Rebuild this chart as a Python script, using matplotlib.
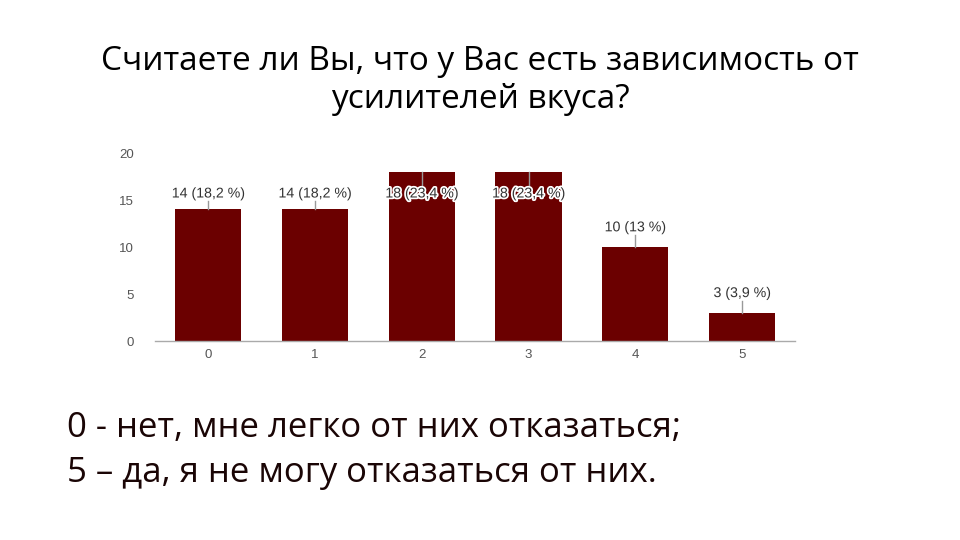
import matplotlib.pyplot as plt
import matplotlib.patheffects as pe
import numpy as np

plt.rcParams["font.family"] = ["Open Sans", "DejaVu Sans"]

TITLE = "Считаете ли Вы, что у Вас есть зависимость от\nусилителей вкуса?"
NOTE_LINES = [
    "0 - нет, мне легко от них отказаться;",
    "5 – да, я не могу отказаться от них.",
]

categories = ["0", "1", "2", "3", "4", "5"]
counts = [14, 14, 18, 18, 10, 3]
percent_labels = ["18,2", "18,2", "23,4", "23,4", "13", "3,9"]

BAR_COLOR = "#6b0000"
TICK_COLOR = "#555555"

fig = plt.figure(figsize=(9.6, 5.4), dpi=100)
ax = fig.add_axes([0.1615, 0.3685, 0.667, 0.348])

x = np.arange(len(categories))
ax.bar(x, counts, width=0.62, color=BAR_COLOR, edgecolor="none", zorder=2)

# labels sit ~2 units above the bar top, but never above 15.7 (they overlap tall bars)
for xi, c, p in zip(x, counts, percent_labels):
    ly = min(c + 2.1, 15.7)
    ax.plot([xi, xi], [c, ly - 0.8] if ly > c else [c, ly + 0.9],
            color="#999999", linewidth=1.0, zorder=3)
    ax.text(xi, ly, f"{c} ({p} %)", ha="center", va="center", fontsize=10.2,
            color="#333333", family="Liberation Sans", zorder=4,
            path_effects=[pe.withStroke(linewidth=2.5, foreground="white")])

ax.set_xlim(-0.5, 5.5)
ax.set_ylim(0, 20)
ax.set_yticks([0, 5, 10, 15, 20])
ax.set_xticks(x)
ax.set_xticklabels(categories)
for lbl in ax.get_xticklabels() + ax.get_yticklabels():
    lbl.set_family("Liberation Sans")
    lbl.set_fontsize(9.5)
    lbl.set_color(TICK_COLOR)
ax.tick_params(axis="both", length=0)
ax.tick_params(axis="y", pad=15)
ax.tick_params(axis="x", pad=6)
for s in ("top", "right", "left"):
    ax.spines[s].set_visible(False)
ax.spines["bottom"].set_color("#aaaaaa")
ax.spines["bottom"].set_linewidth(1.0)

fig.text(0.5, 0.851, TITLE, ha="center", va="center", fontsize=24,
         color="black", linespacing=1.2)
fig.text(0.07, 0.207, NOTE_LINES[0], ha="left", va="center", fontsize=25, color="#1a0505")
fig.text(0.07, 0.124, NOTE_LINES[1], ha="left", va="center", fontsize=25, color="#1a0505")

fig.savefig("out.png", dpi=100)
